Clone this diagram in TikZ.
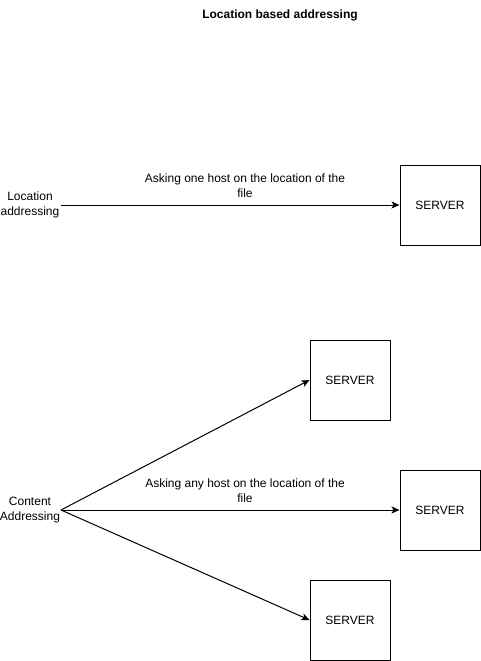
\documentclass[tikz,border=0pt]{standalone}
\usepackage{fontspec}
\setmainfont{Liberation Sans}
\usetikzlibrary{arrows.meta}
\begin{document}
\begin{tikzpicture}[x=1pt,y=-1pt,
  every node/.style={font=\fontsize{12}{15}\selectfont, inner sep=0pt},
  serverbox/.style={draw, line width=1pt, minimum width=80pt, minimum height=80pt},
  caption/.style={align=center},
  link/.style={line width=1pt, -{Stealth[length=8pt,width=7pt,inset=2pt]}}]
\useasboundingbox (0,0) rectangle (481,661);

% title
\node[font=\fontsize{12}{15}\selectfont\bfseries] (title) at (280,15) {Location based addressing};

% location addressing: one host
\node[caption] (loc) at (30,205) {Location\\addressing};
\node[serverbox] (s1) at (440,205) {SERVER};
\coordinate (locout) at (61,205);
\draw[link] (locout) -- (s1.west);
\node[caption] (lab1) at (245,186) {Asking one host on the location of the\\file};

% content addressing: any host
\node[caption] (con) at (30,510) {Content\\Addressing};
\node[serverbox] (s2) at (350,380) {SERVER};
\node[serverbox] (s3) at (440,510) {SERVER};
\node[serverbox] (s4) at (350,620) {SERVER};
\coordinate (conout) at (61,510);
\draw[link] (conout) -- (s2.west);
\draw[link] (conout) -- (s3.west);
\draw[link] (conout) -- (s4.west);
\node[caption] (lab2) at (245,491) {Asking any host on the location of the\\file};
\end{tikzpicture}
\end{document}
